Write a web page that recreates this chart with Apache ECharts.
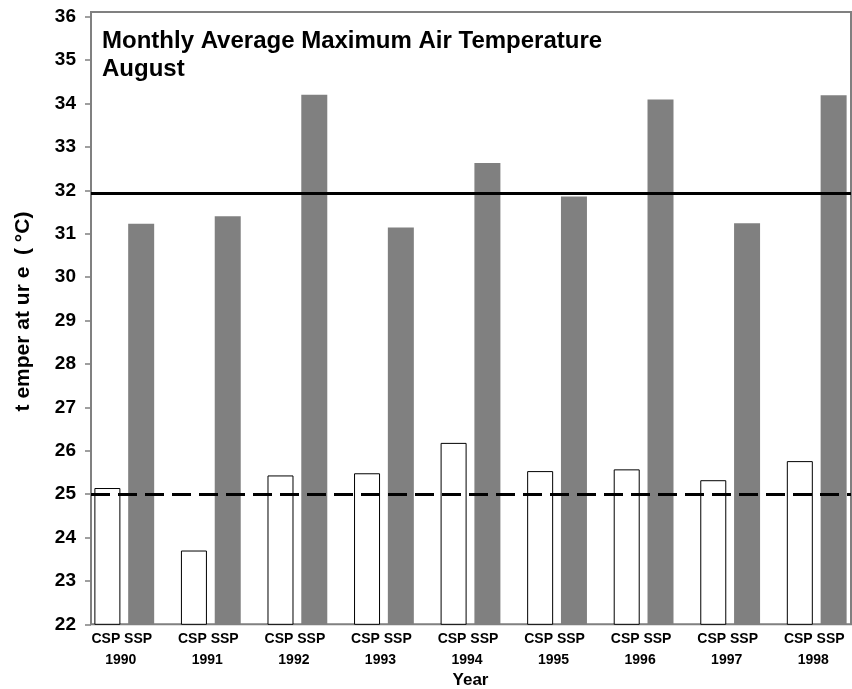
<!DOCTYPE html>
<html>
<head>
<meta charset="utf-8">
<script src="https://cdn.jsdelivr.net/npm/echarts@6/dist/echarts.min.js"></script>
<style>
html,body{margin:0;padding:0;background:#fff;}
#chart{width:852px;height:689px;}
</style>
</head>
<body>
<div id="chart"></div>
<script>
var years = ['1990','1991','1992','1993','1994','1995','1996','1997','1998'];
var cspValues = [25.14, 23.70, 25.43, 25.48, 26.18, 25.53, 25.57, 25.32, 25.76];
var sspValues = [31.23, 31.40, 34.20, 31.14, 32.63, 31.86, 34.09, 31.24, 34.19];
var sspMeanLine = 31.93;
var cspMeanLine = 25.0;
var yMin = 22, yMax = 36, yStep = 1;

var FONT = '"Liberation Sans", Arial, sans-serif';
var chart = echarts.init(document.getElementById('chart'));

chart.setOption({
  backgroundColor: '#ffffff',
  animation: false,
  title: {
    text: 'Monthly Average Maximum Air Temperature\nAugust',
    left: 97,
    top: 22,
    textStyle: { fontFamily: FONT, fontWeight: 'bold', fontSize: 24, lineHeight: 28, color: '#000' }
  },
  grid: [
    { left: 91, right: 1, top: 12, bottom: 64.7, show: true, borderColor: '#808080', borderWidth: 2, backgroundColor: 'transparent', outerBoundsMode: 'none', containLabel: false },
    { left: 91, right: 1, top: 16.7, bottom: 64.7, outerBoundsMode: 'none', containLabel: false },
    { left: 81, width: 779, top: 16.7, bottom: 64.7, outerBoundsMode: 'none', containLabel: false }
  ],
  xAxis: [
    { gridIndex: 0, type: 'value', min: 0, max: 1, show: false },
    { gridIndex: 1, type: 'value', min: 0, max: 1, show: false },
    {
      gridIndex: 2, type: 'category', data: years,
      axisLine: { show: false }, axisTick: { show: false },
      axisLabel: {
        margin: 4, interval: 0,
        formatter: function (v) { return '{a|CSP SSP}\n{b|' + v + '}'; },
        rich: {
          a: { fontFamily: FONT, fontWeight: 'bold', fontSize: 14, lineHeight: 21, color: '#000', padding: [0, 5, 0, 0] },
          b: { fontFamily: FONT, fontWeight: 'bold', fontSize: 14, lineHeight: 21, color: '#000', padding: [0, 7, 0, 0] }
        }
      },
      name: 'Year', nameLocation: 'middle', nameGap: 46,
      nameTextStyle: { fontFamily: FONT, fontWeight: 'bold', fontSize: 17, color: '#000' }
    }
  ],
  yAxis: [
    { gridIndex: 0, type: 'value', min: 0, max: 1, show: false },
    {
      gridIndex: 1, type: 'value', min: yMin, max: yMax, interval: yStep,
      axisLine: { show: false },
      axisTick: { show: true, length: 6, inside: false, lineStyle: { color: '#808080', width: 1.5 } },
      splitLine: { show: false },
      axisLabel: { margin: 15, fontFamily: FONT, fontWeight: 'bold', fontSize: 19, color: '#000' },
      name: 't emper at ur e  ( °C)', nameLocation: 'middle', nameGap: 57, nameRotate: 90,
      nameTextStyle: { fontFamily: FONT, fontWeight: 'bold', fontSize: 21, color: '#000', padding: [0, 0, 0, 18] }
    },
    { gridIndex: 2, type: 'value', min: yMin, max: yMax, show: false }
  ],
  series: [
    {
      name: 'CSP', type: 'bar', xAxisIndex: 2, yAxisIndex: 2,
      data: cspValues, barWidth: 26, barGap: '30%',
      itemStyle: { color: '#ffffff', borderColor: '#000000', borderWidth: 1 },
      silent: true
    },
    {
      name: 'SSP', type: 'bar', xAxisIndex: 2, yAxisIndex: 2,
      data: sspValues, barWidth: 26, barGap: '30%',
      itemStyle: { color: '#808080' },
      silent: true
    },
    {
      type: 'line', xAxisIndex: 1, yAxisIndex: 1, data: [],
      silent: true,
      markLine: {
        silent: true, symbol: 'none', label: { show: false },
        data: [
          { yAxis: cspMeanLine, lineStyle: { color: '#000', width: 3, type: [19, 8] } },
          { yAxis: sspMeanLine, lineStyle: { color: '#000', width: 3, type: 'solid' } }
        ]
      }
    }
  ]
});
</script>
</body>
</html>
